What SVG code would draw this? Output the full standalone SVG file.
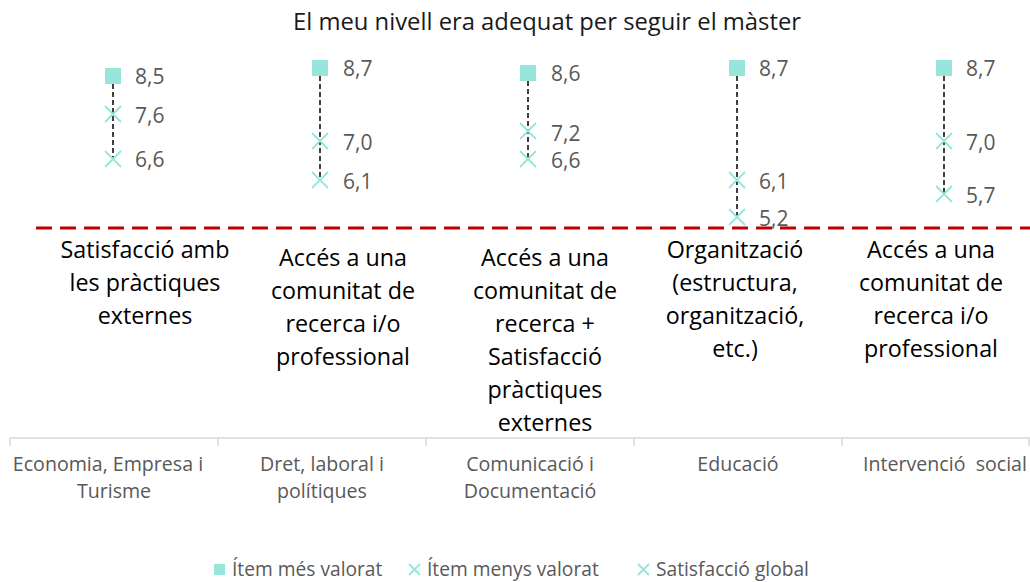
<svg xmlns="http://www.w3.org/2000/svg" width="1030" height="582" viewBox="0 0 1030 582">
<defs>
<style>
text{font-family:"Open Sans",Lato,"Liberation Sans",sans-serif}
.title{font-size:23.8px;fill:#1a1a1a;text-anchor:middle}
.val{font-size:21px;fill:#595959}
.ann{font-size:23.3px;fill:#000;text-anchor:middle}
.cat{font-size:19.6px;fill:#595959;text-anchor:middle}
.leg{font-size:19.2px;fill:#595959}
.sq{fill:#96E6DC}
.xm{stroke:#96E6DC;stroke-width:1.8;fill:none}
.conn{stroke:#404040;stroke-width:2;stroke-dasharray:5 3;fill:none}
.axis{stroke:#D9D9D9;stroke-width:1.5;fill:none}
</style>
<g id="x"><path d="M-8,-8L8,8M-8,8L8,-8" class="xm"/></g>
</defs>
<rect width="1030" height="582" fill="#fff"/>
<text class="title" x="547" y="30">El meu nivell era adequat per seguir el màster</text>
<g id="axis">
<path class="axis" d="M10,438H1030M10,438v8M218,438v8M426,438v8M634,438v8M842,438v8M1029,438v8"/>
</g>
<g id="threshold"><path d="M36,228H1030" stroke="#C00000" stroke-width="3" stroke-dasharray="16 8"/></g>
<g id="connectors">
<path class="conn" d="M113,76V159"/>
<path class="conn" d="M320,68V180"/>
<path class="conn" d="M528,73V159"/>
<path class="conn" d="M737,68V218"/>
<path class="conn" d="M944,68V194"/>
</g>
<g id="cat1">
<rect class="sq" x="105" y="68" width="16" height="16"/>
<use href="#x" x="113" y="114"/><use href="#x" x="113" y="159"/>
<text class="val" x="135" y="84">8,5</text><text class="val" x="135" y="123">7,6</text><text class="val" x="135" y="167">6,6</text>
<text class="ann" x="145" y="258">Satisfacció amb</text><text class="ann" x="145" y="291">les pràctiques</text><text class="ann" x="145" y="324">externes</text>
<text class="cat" x="108" y="471">Economia, Empresa i</text><text class="cat" x="114" y="498">Turisme</text>
</g>
<g id="cat2">
<rect class="sq" x="312" y="60" width="16" height="16"/>
<use href="#x" x="320" y="141"/><use href="#x" x="320" y="180"/>
<text class="val" x="343" y="76">8,7</text><text class="val" x="343" y="150">7,0</text><text class="val" x="343" y="189">6,1</text>
<text class="ann" x="343" y="266">Accés a una</text><text class="ann" x="343" y="299">comunitat de</text><text class="ann" x="343" y="332">recerca i/o</text><text class="ann" x="343" y="365">professional</text>
<text class="cat" x="322" y="471">Dret, laboral i</text><text class="cat" x="322" y="498">polítiques</text>
</g>
<g id="cat3">
<rect class="sq" x="520" y="65" width="16" height="16"/>
<use href="#x" x="528" y="131"/><use href="#x" x="528" y="159"/>
<text class="val" x="551" y="81">8,6</text><text class="val" x="551" y="141">7,2</text><text class="val" x="551" y="168">6,6</text>
<text class="ann" x="545" y="266">Accés a una</text><text class="ann" x="545" y="299">comunitat de</text><text class="ann" x="545" y="332">recerca +</text><text class="ann" x="545" y="365">Satisfacció</text><text class="ann" x="545" y="398">pràctiques</text><text class="ann" x="545" y="431">externes</text>
<text class="cat" x="530" y="471">Comunicació i</text><text class="cat" x="530" y="498">Documentació</text>
</g>
<g id="cat4">
<rect class="sq" x="729" y="60" width="16" height="16"/>
<use href="#x" x="737" y="180"/><use href="#x" x="737" y="217"/>
<text class="val" x="759" y="76">8,7</text><text class="val" x="759" y="189">6,1</text><text class="val" x="759" y="226">5,2</text>
<text class="ann" x="735" y="258">Organització</text><text class="ann" x="735" y="291">(estructura,</text><text class="ann" x="735" y="324">organització,</text><text class="ann" x="735" y="357">etc.)</text>
<text class="cat" x="738" y="471">Educació</text>
</g>
<g id="cat5">
<rect class="sq" x="936" y="60" width="16" height="16"/>
<use href="#x" x="944" y="141"/><use href="#x" x="944" y="194"/>
<text class="val" x="966" y="76">8,7</text><text class="val" x="966" y="150">7,0</text><text class="val" x="966" y="203">5,7</text>
<text class="ann" x="931" y="258">Accés a una</text><text class="ann" x="931" y="291">comunitat de</text><text class="ann" x="931" y="324">recerca i/o</text><text class="ann" x="931" y="357">professional</text>
<text class="cat" x="945" y="471" xml:space="preserve">Intervenció  social</text>
</g>
<g id="legend">
<rect class="sq" x="214" y="564" width="11" height="11"/>
<text class="leg" x="232" y="576">Ítem més valorat</text>
<path class="xm" d="M409,564L420,575M409,575L420,564"/>
<text class="leg" x="427" y="576">Ítem menys valorat</text>
<path class="xm" d="M638,564L649,575M638,575L649,564"/>
<text class="leg" x="656" y="576">Satisfacció global</text>
</g>
</svg>
